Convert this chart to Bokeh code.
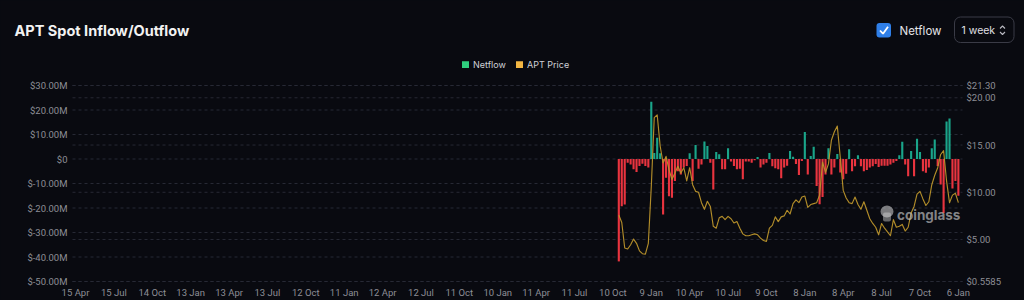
import numpy as np
import pandas as pd
from bokeh.plotting import figure
from bokeh.models import Range1d, LinearAxis, FixedTicker, ColumnDataSource
from bokeh.embed import file_html
from bokeh.resources import INLINE
from bokeh.core.properties import value

# ---------------- data ----------------
axis_start = "2019-04-15"     # first x tick (Monday)
first_week = "2022-10-24"     # first weekly bar
tick_labels = ["15 Apr", "15 Jul", "14 Oct", "13 Jan", "13 Apr", "13 Jul", "12 Oct", "11 Jan",
               "12 Apr", "12 Jul", "11 Oct", "10 Jan", "11 Apr", "11 Jul", "10 Oct", "9 Jan",
               "10 Apr", "10 Jul", "9 Oct", "8 Jan", "8 Apr", "8 Jul", "7 Oct", "6 Jan"]

# weekly netflow, millions USD
netflow_m = [
    -41.8, -19.3, -18.6, -1.5, -2.2, -4.2, -5.3, -2.9, -1.9, -2.9,
    -3.5, 23.4, 2.5, 8.7, 2.3, -22.7, -7.7, -15.2, -15.8, -9.0,
    -5.0, -6.3, -3.5, -2.9, 2.3, -9.0, 5.7, -4.0, -2.2, 7.1,
    5.3, -1.5, -12.4, 2.9, 1.9, -4.2, -4.2, 4.4, -1.0, -2.9,
    -4.2, -4.0, -8.3, -1.0, -1.0, -1.5, -0.5, 0.8, -3.5, -2.2,
    -1.5, 2.4, -3.0, -3.8, -4.2, -7.9, -3.5, -2.8, 3.3, 0.9,
    -2.0, -6.5, -0.8, 11.0, -6.3, 1.2, 5.0, -11.0, -18.5, -15.5,
    -6.3, 4.4, -6.3, -3.5, 2.0, -5.5, -8.3, -6.0, 4.0, -5.0,
    -3.0, 1.5, -3.0, -5.0, -4.5, -3.5, -3.0, -2.0, -3.3, -2.8,
    -2.8, -2.8, -2.2, -1.5, -0.8, 1.5, 7.0, -2.2, -7.0, 3.3,
    -7.0, 8.3, 2.9, -5.0, -5.6, -3.5, 4.4, 8.0, -2.9, -10.4,
    -22.0, 15.3, 16.5, -12.0, -9.0, -15.0,
]

# weekly APT price, USD
price = [
    7.6, 6.8, 4.1, 4.0, 4.45, 5.05, 4.6, 3.8, 3.5, 3.45,
    4.6, 10.6, 17.9, 18.2, 14.9, 13.1, 13.8, 12.4, 11.35, 12.05,
    12.75, 12.05, 12.6, 11.2, 12.6, 10.8, 10.1, 10.0, 8.9, 8.2,
    9.05, 8.5, 6.4, 6.2, 7.3, 7.45, 7.1, 7.45, 7.2, 6.75,
    6.9, 6.2, 5.6, 5.4, 5.4, 5.5, 5.6, 5.5, 5.15, 4.9,
    4.8, 6.2, 6.5, 7.4, 6.9, 7.4, 7.5, 8.1, 7.7, 8.8,
    9.2, 8.9, 9.5, 9.6, 8.4, 8.7, 8.8, 8.9, 9.7, 13.2,
    12.1, 13.0, 15.5, 16.4, 17.0, 13.7, 10.2, 9.4, 8.9, 8.8,
    9.5, 8.7, 8.2, 9.0, 8.1, 7.2, 6.7, 6.3, 5.5, 6.7,
    6.2, 5.8, 5.4, 7.1, 6.3, 6.4, 6.6, 5.9, 6.3, 7.8,
    8.5, 9.8, 10.1, 9.3, 8.6, 9.0, 10.8, 11.8, 12.6, 14.0,
    14.4, 11.2, 8.9, 9.7, 9.9, 8.9,
]

left_ticks = [-50, -40, -30, -20, -10, 0, 10, 20, 30]
left_labels = ["$-50.00M", "$-40.00M", "$-30.00M", "$-20.00M", "$-10.00M", "$0",
               "$10.00M", "$20.00M", "$30.00M"]
right_ticks = [0.5585, 5, 10, 15, 20, 21.30]
right_labels = ["$0.5585", "$5.00", "$10.00", "$15.00", "$20.00", "$21.30"]

# ---------------- geometry & styling ----------------
W, H = 1024, 300
AL, AR, AT, AB = 72, 962, 85, 281          # plot area on the page (pixels)
X0, X1 = -1.02, 300.4                       # weeks shown across the plot area
Y0, Y1 = -50.0, 30.0                        # netflow range (M)
P0, P1 = 0.5585, 21.30                      # price range


def extend(lo, hi, a, b, before, after):
    s = (hi - lo) / (b - a)
    return lo - before * s, hi + after * s


xr = extend(X0, X1, AL, AR, AL, W - AR)
yr = extend(Y0, Y1, AT, AB, H - AB, AT)
pr = extend(P0, P1, AT, AB, H - AB, AT)

BG = "#090a10"
GRID = "#272934"
TXT = "#8d8e96"
UP = "#1aa58a"
DOWN = "#e9343f"
LINE = "#bb932b"
FONT = "Inter"
TFONT = "Roboto"

dates = pd.date_range(first_week, periods=len(netflow_m), freq="7D")
wk = ((dates - pd.Timestamp(axis_start)).days / 7).to_numpy()
x_ticks = [13 * i for i in range(len(tick_labels))]

src = ColumnDataSource(dict(
    x=wk,
    top=netflow_m,
    color=[UP if v >= 0 else DOWN for v in netflow_m],
))

p = figure(width=W, height=H, x_range=Range1d(*xr), y_range=Range1d(*yr),
           output_backend="svg", toolbar_location=None,
           min_border_left=0, min_border_right=0, min_border_top=0, min_border_bottom=0,
           background_fill_color=BG, border_fill_color=BG, outline_line_color=None)
p.title.visible = False
p.extra_y_ranges = {"price": Range1d(*pr), "py": Range1d(H, 0)}
p.extra_x_ranges = {"px": Range1d(0, W)}

# axes (fixed inside the full-canvas frame)
p.xaxis.ticker = FixedTicker(ticks=x_ticks)
p.xaxis.major_label_overrides = {t: l for t, l in zip(x_ticks, tick_labels)}
p.xaxis.fixed_location = Y0
p.yaxis.ticker = FixedTicker(ticks=left_ticks)
p.yaxis.major_label_overrides = {t: l for t, l in zip(left_ticks, left_labels)}
p.yaxis.fixed_location = X0

rax = LinearAxis(y_range_name="price", ticker=FixedTicker(ticks=right_ticks), fixed_location=X1)
rax.major_label_overrides = {t: l for t, l in zip(right_ticks, right_labels)}
p.add_layout(rax, "right")

for ax in [p.xaxis[0], p.yaxis[0], rax]:
    ax.axis_line_color = None
    ax.major_tick_line_color = None
    ax.minor_tick_line_color = None
    ax.major_tick_out = 0
    ax.major_tick_in = 0
    ax.minor_tick_out = 0
    ax.minor_tick_in = 0
    ax.major_label_text_color = TXT
    ax.major_label_text_font = TFONT
    ax.major_label_text_font_size = "9.5px"
p.xaxis.major_label_standoff = 5
p.yaxis.major_label_standoff = 5
rax.major_label_standoff = 4

# grid lines across the plot area only
p.grid.visible = False
p.segment(x0=X0, x1=X1, y0=left_ticks, y1=left_ticks, line_color=GRID, line_dash="3 3", line_width=1)
p.segment(x0=X0, x1=X1, y0=right_ticks, y1=right_ticks, y_range_name="price",
          line_color=GRID, line_dash="3 3", line_width=1)

p.vbar(x="x", top="top", bottom=0, width=0.72, fill_color="color", line_color=None, source=src)
p.line(wk, price, y_range_name="price", line_color=LINE, line_width=1.15, line_alpha=0.95,
       line_join="round")

# ---------------- page-pixel annotations (header, legend, watermark) ----------------
PX = dict(x_range_name="px", y_range_name="py")

# watermark (logo blob + wordmark)
p.ellipse(x=[886.5], y=[211], width=13, height=12, fill_color="#d8d8d8", fill_alpha=0.55,
          line_color=None, **PX)
p.quad(left=[882.5], right=[890.5], top=[212], bottom=[221], fill_color="#d8d8d8", fill_alpha=0.45,
       line_color=None, border_radius=2, **PX)
p.text(x=[896.5], y=[214], text=["coinglass"], text_font=value(FONT), text_font_size="13.5px",
       text_font_style="bold", text_color="#d8d8d8", text_alpha=0.6, text_baseline="middle", **PX)

# title
p.text(x=[14], y=[30], text=["APT Spot Inflow/Outflow"], text_font=value(FONT),
       text_font_size="14.5px", text_font_style="bold", text_color="#f2f2f2",
       text_baseline="middle", **PX)

# checkbox + label
p.quad(left=[876], right=[890.5], top=[22.5], bottom=[37], fill_color="#2f7fe8", line_color=None,
       border_radius=3, **PX)
p.line(x=[879.5, 882.5, 887.5], y=[30, 33.2, 26.2], line_color="white", line_width=1.8, **PX)
p.text(x=[899], y=[30], text=["Netflow"], text_font=value(FONT), text_font_size="11.5px",
       text_color="#e4e4e8", text_baseline="middle", **PX)

# interval dropdown
p.quad(left=[954], right=[1013.5], top=[16.5], bottom=[42], fill_color=None, line_color="#3a3b46",
       line_width=1, border_radius=6, **PX)
p.text(x=[961], y=[30], text=["1 week"], text_font=value(FONT), text_font_size="10.5px",
       text_color="#e0e0e4", text_baseline="middle", **PX)
p.multi_line(xs=[[999.5, 1002, 1004.5], [999.5, 1002, 1004.5]], ys=[[28, 25.5, 28], [31.5, 34, 31.5]],
             line_color="#b8b8c0", line_width=1.1, **PX)

# legend
p.quad(left=[461.5, 515.5], right=[468.5, 522.5], top=[60.7, 60.7], bottom=[67.5, 67.5],
       fill_color=["#2fcf7e", "#f2b643"], line_color=None, **PX)
p.text(x=[472.5, 526.5], y=[64.2, 64.2], text=["Netflow", "APT Price"], text_font=value(FONT),
       text_font_size="9px", text_color="#cfd0d6", text_baseline="middle", **PX)

html = file_html(p, INLINE)
style = "<style>html,body{margin:0;padding:0;background:%s;overflow:hidden}</style>" % BG
html = html.replace("</head>", style + "</head>", 1)
open("out.html", "w").write(html)
